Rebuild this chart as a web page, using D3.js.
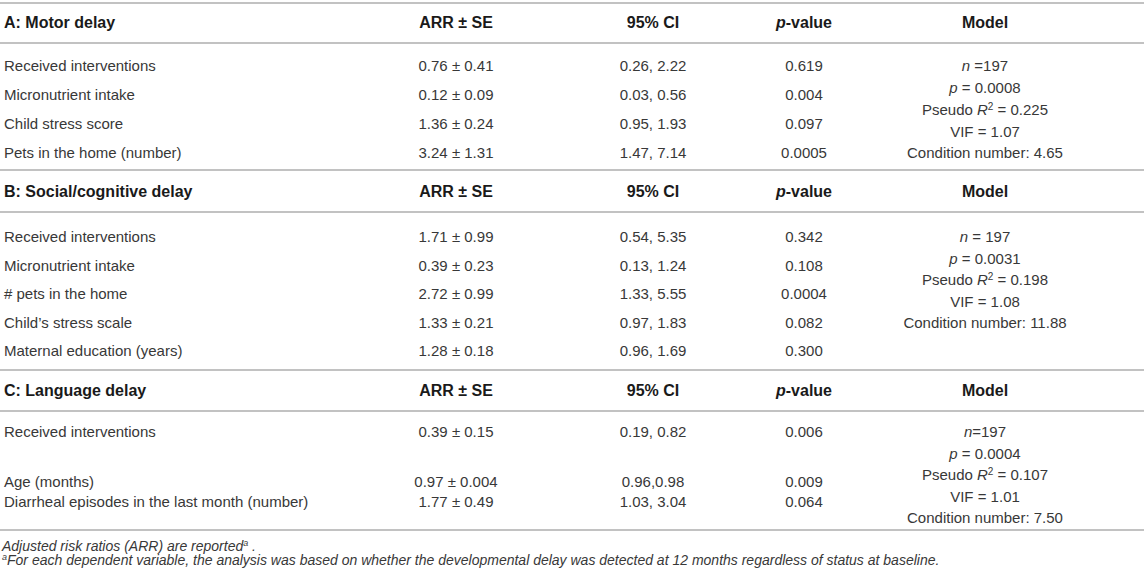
<!DOCTYPE html>
<html>
<head>
<meta charset="utf-8">
<script src="https://cdn.jsdelivr.net/npm/d3@7"></script>
<style>
  body { margin: 0; background: #fff; }
  text { font-family: "Liberation Sans", Arial, sans-serif; }
</style>
</head>
<body>
<div id="my_table"></div>
<script>
// column headers (p-value gets an italic p below)
const columns = ["ARR ± SE", "95% CI", "p-value", "Model"];

// A: Motor delay
const motorLabels = ["Received interventions", "Micronutrient intake", "Child stress score", "Pets in the home (number)"];
const motorArr = ["0.76 ± 0.41", "0.12 ± 0.09", "1.36 ± 0.24", "3.24 ± 1.31"];
const motorCI = ["0.26, 2.22", "0.03, 0.56", "0.95, 1.93", "1.47, 7.14"];
const motorP = ["0.619", "0.004", "0.097", "0.0005"];
const motorModel = ["n =197", "p = 0.0008", "Pseudo R2 = 0.225", "VIF = 1.07", "Condition number: 4.65"];

// B: Social/cognitive delay
const socialLabels = ["Received interventions", "Micronutrient intake", "# pets in the home", "Child’s stress scale", "Maternal education (years)"];
const socialArr = ["1.71 ± 0.99", "0.39 ± 0.23", "2.72 ± 0.99", "1.33 ± 0.21", "1.28 ± 0.18"];
const socialCI = ["0.54, 5.35", "0.13, 1.24", "1.33, 5.55", "0.97, 1.83", "0.96, 1.69"];
const socialP = ["0.342", "0.108", "0.0004", "0.082", "0.300"];
const socialModel = ["n = 197", "p = 0.0031", "Pseudo R2 = 0.198", "VIF = 1.08", "Condition number: 11.88"];

// C: Language delay
const languageLabels = ["Received interventions", "Age (months)", "Diarrheal episodes in the last month (number)"];
const languageArr = ["0.39 ± 0.15", "0.97 ± 0.004", "1.77 ± 0.49"];
const languageCI = ["0.19, 0.82", "0.96,0.98", "1.03, 3.04"];
const languageP = ["0.006", "0.009", "0.064"];
const languageModel = ["n=197", "p = 0.0004", "Pseudo R2 = 0.107", "VIF = 1.01", "Condition number: 7.50"];

const footnote1 = "Adjusted risk ratios (ARR) are reported";
const footnote2 = "For each dependent variable, the analysis was based on whether the developmental delay was detected at 12 months regardless of status at baseline.";

// page size
const width = 1144, height = 576;

const svg = d3.select("#my_table")
  .append("svg")
  .attr("width", width)
  .attr("height", height);

// column x positions (label column is left aligned, the rest centred)
const x = d3.scaleOrdinal()
  .domain(["label"].concat(columns))
  .range([4, 456, 653, 804, 985]);

// vertical layout of each block: top rule, header, rule under header, rows, model lines
const sections = [
  { title: "A: Motor delay", labels: motorLabels, arr: motorArr, ci: motorCI, p: motorP, model: motorModel,
    top: 3, head: 22, rule: 43, rowY: [66, 153], modelY: [66, 153] },
  { title: "B: Social/cognitive delay", labels: socialLabels, arr: socialArr, ci: socialCI, p: socialP, model: socialModel,
    top: 170, head: 191, rule: 212, rowY: [237, 351], modelY: [237, 323] },
  { title: "C: Language delay", labels: languageLabels, arr: languageArr, ci: languageCI, p: languageP, model: languageModel,
    top: 370, head: 390, rule: 411, rowY: [432, 482, 502], modelY: [432, 518] }
];
const bottomRule = 530;

const ruleColor = "#c2c2c2", textColor = "#383838", headColor = "#1a1a1a";

function rule(y) {
  svg.append("line")
    .attr("x1", 0).attr("x2", width)
    .attr("y1", y).attr("y2", y)
    .attr("stroke", ruleColor)
    .attr("stroke-width", 2);
}

// writes one model line with italics for n, p and R plus the superscript 2
function modelLine(t, s) {
  if (s.startsWith("Pseudo R2")) {
    t.append("tspan").text("Pseudo ");
    t.append("tspan").attr("font-style", "italic").text("R");
    t.append("tspan").attr("font-size", "10px").attr("dy", -5).text("2");
    t.append("tspan").attr("dy", 5).text(s.slice(9));
  } else if (s.startsWith("n") || s.startsWith("p")) {
    t.append("tspan").attr("font-style", "italic").text(s[0]);
    t.append("tspan").text(s.slice(1));
  } else {
    t.text(s);
  }
}

sections.forEach(function (sec) {
  rule(sec.top);
  rule(sec.rule);

  // header row
  svg.append("text")
    .attr("x", x("label"))
    .attr("y", sec.head)
    .attr("dy", "0.35em")
    .attr("font-size", "16px")
    .attr("font-weight", "bold")
    .attr("fill", headColor)
    .text(sec.title);

  const head = svg.selectAll(null)
    .data(columns)
    .enter()
    .append("text")
    .attr("x", d => x(d))
    .attr("y", sec.head)
    .attr("dy", "0.35em")
    .attr("text-anchor", "middle")
    .attr("font-size", "16px")
    .attr("font-weight", "bold")
    .attr("fill", headColor);
  head.each(function (d) {
    const t = d3.select(this);
    if (d === "p-value") {
      t.append("tspan").attr("font-style", "italic").text("p");
      t.append("tspan").text("-value");
    } else {
      t.text(d);
    }
  });

  // row positions
  const idx = d3.range(sec.labels.length);
  const y = d3.scaleLinear()
    .domain(sec.rowY.length === 2 ? [0, idx.length - 1] : idx)
    .range(sec.rowY);

  const cells = [
    { key: "label", values: sec.labels, anchor: "start" },
    { key: "ARR ± SE", values: sec.arr, anchor: "middle" },
    { key: "95% CI", values: sec.ci, anchor: "middle" },
    { key: "p-value", values: sec.p, anchor: "middle" }
  ];
  cells.forEach(function (col) {
    svg.selectAll(null)
      .data(col.values)
      .enter()
      .append("text")
      .attr("x", x(col.key))
      .attr("y", (d, i) => y(i))
      .attr("dy", "0.35em")
      .attr("text-anchor", col.anchor)
      .attr("font-size", "15px")
      .attr("fill", textColor)
      .text(d => d);
  });

  // model column, spread over its own lines
  const ym = d3.scaleLinear()
    .domain([0, sec.model.length - 1])
    .range(sec.modelY);
  svg.selectAll(null)
    .data(sec.model)
    .enter()
    .append("text")
    .attr("x", x("Model"))
    .attr("y", (d, i) => ym(i))
    .attr("dy", "0.35em")
    .attr("text-anchor", "middle")
    .attr("font-size", "15px")
    .attr("fill", textColor)
    .each(function (d) { modelLine(d3.select(this), d); });
});

rule(bottomRule);

// footnotes
const f1 = svg.append("text")
  .attr("x", 2).attr("y", 546).attr("dy", "0.35em")
  .attr("font-size", "14px").attr("font-style", "italic")
  .attr("fill", textColor);
f1.append("tspan").text(footnote1);
f1.append("tspan").attr("font-size", "9px").attr("dy", -5).text("a");
f1.append("tspan").attr("dy", 5).text(" .");

const f2 = svg.append("text")
  .attr("x", 2).attr("y", 565).attr("dy", "0.35em")
  .attr("font-size", "14px").attr("font-style", "italic")
  .attr("fill", textColor);
f2.append("tspan").attr("font-size", "9px").attr("dy", -5).text("a");
f2.append("tspan").attr("dy", 5).text(footnote2);
</script>
</body>
</html>
